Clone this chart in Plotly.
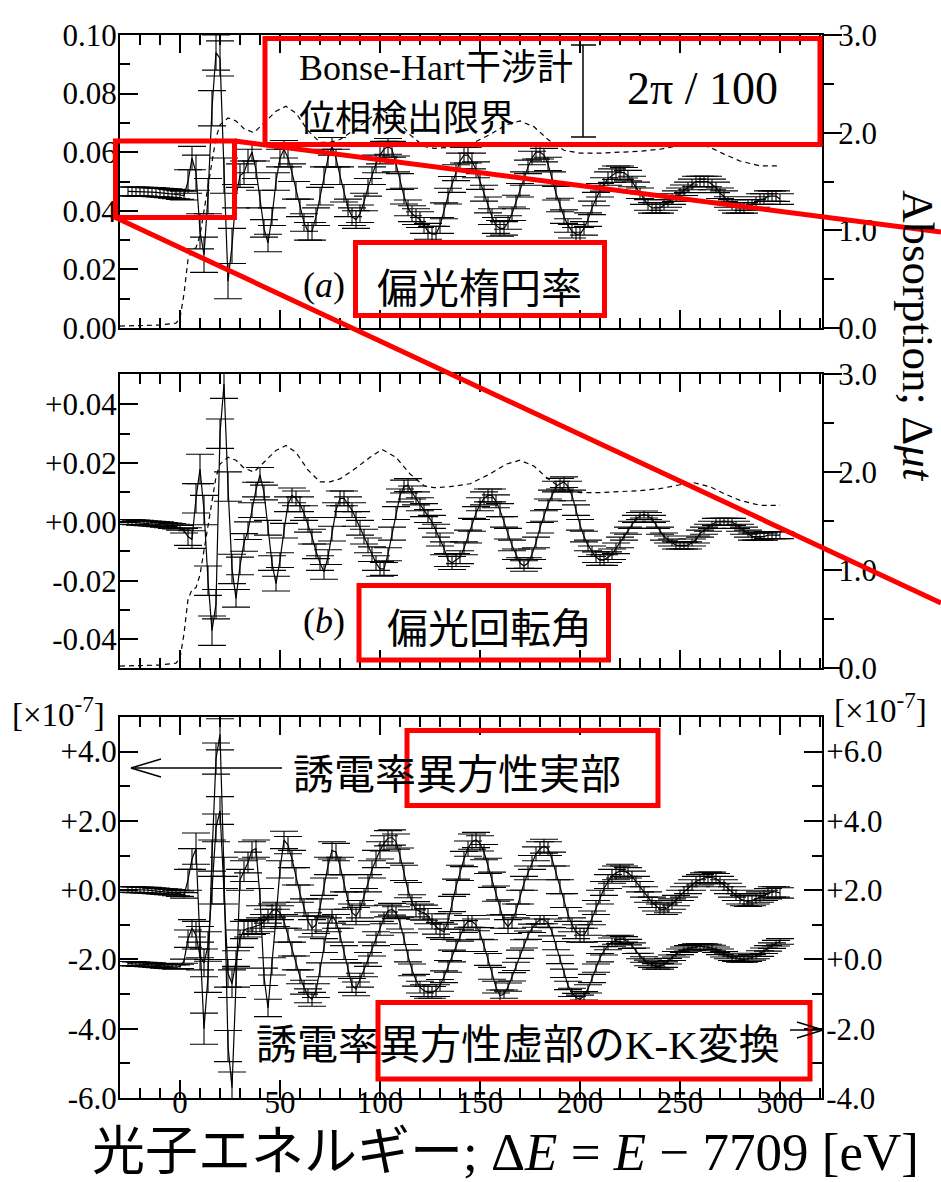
import plotly.graph_objects as go

W, H = 941, 1182

# ---------------- data ----------------
E_pre = [-26, -24, -22, -20, -18, -16, -14, -12, -10, -8, -6, -4, -2, 0, 2]
E_edge = [4, 6, 8, 10, 12, 14, 16, 18, 20, 22, 24, 26, 28, 30, 32]
E_post = [34, 36, 38, 40, 42, 44, 46, 48, 50, 52,
          54, 56, 58, 60, 62, 64, 66, 68, 70, 72,
          74, 76, 78, 80, 82, 84, 86, 88, 90, 92,
          94, 96, 98, 100, 102, 104, 106, 108, 110, 112,
          114, 116, 118, 120, 122, 124, 126, 128, 130, 132,
          134, 136, 138, 140, 142, 144, 146, 148, 150, 152,
          154, 156, 158, 160, 162, 164, 166, 168, 170, 172,
          174, 176, 178, 180, 182, 184, 186, 188, 190, 192,
          194, 196, 198, 200, 202, 204, 206, 208, 210, 212,
          214, 216, 218, 220, 222, 224, 226, 228, 230, 232,
          234, 236, 238, 240, 242, 244, 246, 248, 250, 252,
          254, 256, 258, 260, 262, 264, 266, 268, 270, 272,
          274, 276, 278, 280, 282, 284, 286, 288, 290, 292,
          294, 296, 298, 300]
E = E_pre + E_edge + E_post

# (a) ellipticity
ellipticity = [0.0466, 0.0466, 0.0466, 0.0465, 0.0465, 0.0464, 0.0464, 0.0463, 0.0462, 0.0461, 0.0460, 0.0458, 0.0456, 0.0454, 0.0452,
               0.050, 0.058, 0.053, 0.033, 0.025, 0.045, 0.075, 0.094, 0.092, 0.052, 0.016, 0.028, 0.045, 0.052, 0.053,
               0.057, 0.060, 0.054, 0.044, 0.034, 0.029, 0.038, 0.050, 0.058, 0.061,
               0.058, 0.053, 0.047, 0.041, 0.036, 0.033, 0.033, 0.038, 0.045, 0.052,
               0.058, 0.062, 0.058, 0.052, 0.046, 0.041, 0.038, 0.037, 0.039, 0.043,
               0.048, 0.052, 0.056, 0.059, 0.061, 0.062, 0.061, 0.056, 0.050, 0.045,
               0.041, 0.039, 0.038, 0.037, 0.035, 0.033, 0.032, 0.032, 0.035, 0.040,
               0.045, 0.049, 0.053, 0.057, 0.059, 0.059, 0.057, 0.054, 0.050, 0.046,
               0.042, 0.038, 0.035, 0.034, 0.034, 0.036, 0.039, 0.043, 0.047, 0.051,
               0.055, 0.058, 0.060, 0.060, 0.059, 0.056, 0.051, 0.046, 0.042, 0.038,
               0.035, 0.033, 0.032, 0.032, 0.034, 0.037, 0.041, 0.044, 0.047, 0.049,
               0.051, 0.052, 0.053, 0.053, 0.053, 0.052, 0.050, 0.048, 0.046, 0.044,
               0.042, 0.041, 0.041, 0.041, 0.042, 0.043, 0.044, 0.045, 0.046, 0.047,
               0.048, 0.049, 0.050, 0.050, 0.050, 0.050, 0.049, 0.048, 0.046, 0.045,
               0.043, 0.042, 0.041, 0.041, 0.041, 0.042, 0.042, 0.043, 0.044, 0.044,
               0.045, 0.045, 0.045, 0.044]

# (b) rotation
rotation = [0.0000, -0.0001, -0.0002, -0.0003, -0.0004, -0.0005, -0.0006, -0.0007, -0.0008, -0.0010, -0.0012, -0.0014, -0.0016, -0.0020, -0.0030,
            -0.005, -0.006, 0.008, 0.018, 0.004, -0.020, -0.037, -0.028, 0.030, 0.047, 0.012, -0.016, -0.026, -0.015, -0.007,
            -0.003, 0.004, 0.011, 0.016, 0.010, -0.002, -0.014, -0.021, -0.013, -0.003,
            0.006, 0.009, 0.008, 0.006, 0.003, -0.001, -0.005, -0.010, -0.014, -0.017,
            -0.012, -0.004, 0.004, 0.008, 0.008, 0.006, 0.004, 0.001, -0.002, -0.005,
            -0.008, -0.011, -0.014, -0.016, -0.016, -0.011, -0.004, 0.003, 0.009, 0.012,
            0.0125, 0.010, 0.008, 0.006, 0.004, 0.002, 0.000, -0.003, -0.006, -0.009,
            -0.013, -0.014, -0.013, -0.012, -0.009, -0.005, -0.001, 0.003, 0.006, 0.008,
            0.009, 0.009, 0.007, 0.004, 0.000, -0.004, -0.008, -0.011, -0.014, -0.015,
            -0.014, -0.011, -0.007, -0.002, 0.002, 0.006, 0.009, 0.012, 0.013, 0.0135,
            0.012, 0.009, 0.004, -0.001, -0.005, -0.008, -0.010, -0.012, -0.013, -0.013,
            -0.012, -0.011, -0.009, -0.007, -0.005, -0.003, -0.001, 0.001, 0.002, 0.0025,
            0.002, 0.001, -0.001, -0.003, -0.005, -0.006, -0.007, -0.008, -0.008, -0.008,
            -0.008, -0.007, -0.006, -0.004, -0.003, -0.002, -0.001, 0.000, 0.000, 0.000,
            0.000, 0.000, -0.001, -0.002, -0.003, -0.004, -0.005, -0.005, -0.005, -0.005,
            -0.0045, -0.0045, -0.0045, -0.0045]

# (c) dielectric anisotropy, real part (left axis, x1e-7)
eps_real = [0.02, 0.02, 0.01, 0.01, 0.0, 0.0, -0.01, -0.02, -0.03, -0.04, -0.05, -0.06, -0.08, -0.10, -0.15,
            0.3, 0.9, 1.2, -1.5, -4.0, -2.5, 1.0, 3.8, 4.5, 0.5, -4.5, -5.7, -2.5, 0.3, 0.55,
            0.8, 1.15, 1.2, -0.2, -2.5, -3.4, -2.2, -0.8, 0.6, 1.45,
            1.3, 0.9, 0.4, -0.1, -0.5, -0.9, -1.1, -1.0, -0.5, 0.1,
            0.7, 1.15, 1.1, 0.7, 0.2, -0.3, -0.65, -0.75, -0.55, -0.2,
            0.2, 0.6, 0.9, 1.15, 1.35, 1.5, 1.52, 1.4, 1.0, 0.5,
            0.0, -0.35, -0.55, -0.62, -0.65, -0.75, -0.9, -1.05, -1.15, -1.2,
            -0.9, -0.4, 0.1, 0.5, 0.9, 1.2, 1.4, 1.45, 1.35, 1.1,
            0.7, 0.3, -0.1, -0.5, -0.9, -1.05, -0.9, -0.6, -0.2, 0.2,
            0.5, 0.8, 1.05, 1.2, 1.27, 1.2, 0.9, 0.5, 0.1, -0.3,
            -0.7, -1.0, -1.2, -1.3, -1.3, -1.1, -0.8, -0.5, -0.2, 0.05,
            0.25, 0.4, 0.5, 0.55, 0.55, 0.5, 0.4, 0.25, 0.1, -0.05,
            -0.2, -0.35, -0.45, -0.55, -0.55, -0.5, -0.4, -0.3, -0.15, -0.05,
            0.05, 0.15, 0.25, 0.3, 0.35, 0.37, 0.37, 0.33, 0.25, 0.15,
            0.05, -0.05, -0.15, -0.25, -0.3, -0.32, -0.3, -0.25, -0.2, -0.15,
            -0.1, -0.05, -0.05, -0.08]

# (c) K-K transform of imaginary part (right axis, x1e-7)
eps_kk = [-0.12, -0.12, -0.13, -0.14, -0.14, -0.15, -0.16, -0.17, -0.18, -0.19, -0.20, -0.21, -0.22, -0.20, -0.05,
          0.6, 0.9, 0.7, 0.1, -0.1, 0.4, 2.0, 3.8, 4.3, 2.0, -0.4, -0.7, 0.0, 0.6, 0.85,
          0.9, 0.92, 0.95, 1.0, 1.1, 1.25, 1.4, 1.45, 1.35, 1.1,
          0.7, 0.3, -0.1, -0.5, -0.8, -1.05, -1.15, -0.9, -0.3, 0.4,
          1.0, 1.25, 1.1, 0.7, 0.2, -0.3, -0.75, -0.85, -0.6, -0.3,
          0.0, 0.3, 0.6, 0.9, 1.2, 1.4, 1.45, 1.35, 1.05, 0.6,
          0.1, -0.3, -0.6, -0.8, -0.9, -0.95, -0.95, -0.9, -0.75, -0.5,
          -0.2, 0.1, 0.4, 0.7, 0.95, 1.1, 1.1, 1.0, 0.75, 0.4,
          0.0, -0.4, -0.8, -1.05, -1.0, -0.8, -0.5, -0.2, 0.15, 0.45,
          0.7, 0.9, 1.05, 1.15, 1.15, 1.05, 0.8, 0.4, 0.0, -0.4,
          -0.75, -0.95, -1.1, -1.15, -1.05, -0.85, -0.55, -0.25, 0.05, 0.25,
          0.4, 0.5, 0.56, 0.58, 0.58, 0.5, 0.4, 0.25, 0.1, 0.0,
          -0.1, -0.15, -0.2, -0.2, -0.15, -0.05, 0.05, 0.15, 0.22, 0.28,
          0.32, 0.35, 0.37, 0.37, 0.37, 0.36, 0.33, 0.28, 0.22, 0.15,
          0.1, 0.05, 0.02, 0.0, 0.0, 0.02, 0.06, 0.1, 0.17, 0.25,
          0.32, 0.4, 0.47, 0.52]

# estimated error-bar half-lengths per energy range (upper bound of range, value)
err_bounds = [2, 6, 26, 34, 100, 160, 220, 300]
ellipticity_err_levels = [0.0015, 0.004, 0.006, 0.004, 0.003, 0.0027, 0.0023, 0.0018]
rotation_err_levels = [0.0008, 0.003, 0.005, 0.003, 0.0025, 0.0022, 0.0018, 0.0012]
eps_real_err_levels = [0.08, 0.3, 0.45, 0.3, 0.25, 0.22, 0.2, 0.15]
eps_kk_err_levels = [0.06, 0.25, 0.4, 0.25, 0.2, 0.17, 0.12, 0.08]

# absorption (dashed)
abs_E = [-30, -10, -2, 0, 2, 4, 6, 8, 10, 12, 14, 16, 18, 20, 24, 28, 32, 37, 42, 48, 53, 58, 64, 70,
         75, 80, 88, 95, 101, 108, 115, 122, 127, 135, 145, 155, 163, 170, 177, 184, 192, 200, 210,
         220, 230, 240, 250, 257, 265, 272, 280, 290, 300]
abs_mu = [0.02, 0.03, 0.05, 0.1, 0.35, 0.7, 0.8, 0.82, 0.95, 1.2, 1.45, 1.7, 1.95, 2.08, 2.15, 2.12,
          2.04, 2.0, 2.1, 2.22, 2.27, 2.2, 2.02, 1.9, 1.9, 1.93, 2.04, 2.15, 2.23, 2.15, 1.98, 1.86,
          1.84, 1.85, 1.88, 1.98, 2.08, 2.12, 2.06, 1.93, 1.82, 1.79, 1.79, 1.80, 1.81, 1.83, 1.87,
          1.89, 1.85, 1.78, 1.71, 1.66, 1.66]

# tick labels
a_left_vals = [0.00, 0.02, 0.04, 0.06, 0.08, 0.10]
a_left_text = ["0.00", "0.02", "0.04", "0.06", "0.08", "0.10"]
abs_vals = [0.0, 1.0, 2.0, 3.0]
abs_text = ["0.0", "1.0", "2.0", "3.0"]
b_left_vals = [-0.04, -0.02, 0.0, 0.02, 0.04]
b_left_text = ["-0.04", "-0.02", "+0.00", "+0.02", "+0.04"]
c_left_vals = [-6, -4, -2, 0, 2, 4]
c_left_text = ["-6.0", "-4.0", "-2.0", "+0.0", "+2.0", "+4.0"]
c_right_vals = [-4, -2, 0, 2, 4, 6]
c_right_text = ["-4.0", "-2.0", "+0.0", "+2.0", "+4.0", "+6.0"]
x_vals = [0, 50, 100, 150, 200, 250, 300]


# ---------------- helpers ----------------
def X(px):
    return px / W


def Y(py):
    return 1 - py / H


def errs(levels):
    out = []
    for e in E:
        for b, v in zip(err_bounds, levels):
            if e <= b:
                out.append(v)
                break
    return out


SERIF = "Liberation Serif"
MIXED = "Liberation Serif, Noto Sans CJK JP"
SANS = "Noto Sans CJK JP"
RED = "#ff0000"

fig = go.Figure()


def data_trace(y, levels, xa, ya):
    return go.Scatter(x=E, y=y, mode="lines", xaxis=xa, yaxis=ya,
                      line=dict(color="black", width=1.2),
                      error_y=dict(type="data", array=errs(levels), visible=True,
                                   color="black", thickness=1.1, width=14),
                      showlegend=False, hoverinfo="skip")


def abs_trace(xa, ya):
    return go.Scatter(x=abs_E, y=abs_mu, mode="lines", xaxis=xa, yaxis=ya,
                      line=dict(color="black", width=1.2, dash="5px,4px"),
                      showlegend=False, hoverinfo="skip")


fig.add_trace(abs_trace("x", "y4"))
fig.add_trace(data_trace(ellipticity, ellipticity_err_levels, "x", "y"))
fig.add_trace(abs_trace("x2", "y5"))
fig.add_trace(data_trace(rotation, rotation_err_levels, "x2", "y2"))
fig.add_trace(data_trace(eps_real, eps_real_err_levels, "x3", "y3"))
fig.add_trace(data_trace(eps_kk, eps_kk_err_levels, "x3", "y6"))

XR = [-30, 321]
tickfont = dict(family=SERIF, size=31, color="black")


def xax(anchor, labels):
    return dict(domain=[X(120), X(822)], range=XR, anchor=anchor,
                tickmode="array", tickvals=x_vals, showticklabels=labels,
                ticks="inside", ticklen=18, tickwidth=1.5, tickcolor="black",
                minor=dict(dtick=10, tick0=0, ticks="inside", ticklen=10,
                           tickwidth=1.5, tickcolor="black"),
                showline=True, linewidth=2, linecolor="black", mirror="ticks",
                showgrid=False, zeroline=False, tickfont=tickfont,
                ticklabelstandoff=-24)


def yax(dom, rng, vals, text, mdt, anchor, side="left", ticks="inside", overlay=None, standoff=0):
    d = dict(domain=dom, range=rng, anchor=anchor, side=side,
             tickmode="array", tickvals=vals, ticktext=text,
             ticks=ticks, ticklen=18, tickwidth=1.5, tickcolor="black",
             minor=dict(dtick=mdt, tick0=0, ticks=ticks, ticklen=10,
                        tickwidth=1.5, tickcolor="black"),
             showline=True, linewidth=2, linecolor="black",
             showgrid=False, zeroline=False, tickfont=tickfont,
             ticklabelstandoff=standoff)
    if overlay:
        d["overlaying"] = overlay
        d.pop("domain")
    return d


domA = [Y(328), Y(35)]
domB = [Y(668), Y(374)]
domC = [Y(1098), Y(717)]

fig.update_layout(
    width=W, height=H,
    margin=dict(l=0, r=0, t=0, b=0),
    paper_bgcolor="white", plot_bgcolor="white",
    template="none",
    showlegend=False,
    xaxis=xax("y", False),
    xaxis2=xax("y2", False),
    xaxis3=xax("y3", True),
    yaxis=yax(domA, [0, 0.10], a_left_vals, a_left_text, 0.01, "x", standoff=-5),
    yaxis2=yax(domB, [-0.0497, 0.0503], b_left_vals, b_left_text, 0.01, "x2", standoff=-5),
    yaxis3=yax(domC, [-6, 5], c_left_vals, c_left_text, 1, "x3", standoff=-5),
    yaxis4=yax(domA, [0, 3], abs_vals, abs_text, 0.5, "x", side="right", ticks="outside", overlay="y", standoff=-10),
    yaxis5=yax(domB, [0, 3], abs_vals, abs_text, 0.5, "x2", side="right", ticks="outside", overlay="y2", standoff=-10),
    yaxis6=yax(domC, [-4, 7], c_right_vals, c_right_text, 1, "x3", side="right", ticks="inside", overlay="y3", standoff=-4),
)

# ---------------- shapes ----------------
shapes = []


def rect(x0, y0, x1, y1):
    shapes.append(dict(type="rect", xref="paper", yref="paper",
                       x0=X(x0), x1=X(x1), y0=Y(y1), y1=Y(y0),
                       line=dict(color=RED, width=5), fillcolor="rgba(0,0,0,0)", layer="above"))


def seg(x0, y0, x1, y1, color="black", width=1.5):
    shapes.append(dict(type="line", xref="paper", yref="paper",
                       x0=X(x0), x1=X(x1), y0=Y(y0), y1=Y(y1),
                       line=dict(color=color, width=width), layer="above"))


rect(265, 38.5, 820, 144.5)
rect(115.5, 141, 234.5, 217.5)
rect(355.5, 242.5, 604.5, 315.5)
rect(359, 585.5, 608.5, 660)
rect(407, 730.5, 658, 805.5)
rect(378, 1002.5, 810, 1079)

seg(234.5, 141, 941, 232, RED, 5)
seg(115.5, 217.5, 941, 603, RED, 5)

# 2pi/100 scale bar
seg(583, 45, 583, 137)
seg(571, 45, 596, 45)
seg(571, 137, 596, 137)

# arrows
seg(282, 768, 131, 768)
seg(131, 768, 161, 759)
seg(131, 768, 161, 777)
seg(790, 1030, 823, 1030)
seg(823, 1030, 797, 1022)
seg(823, 1030, 797, 1038)

fig.update_layout(shapes=shapes)

# ---------------- annotations ----------------
ann = []


def txt(s, x, y, size, family=MIXED, xanchor="center", angle=0):
    ann.append(dict(text=s, x=X(x), y=Y(y), xref="paper", yref="paper",
                    xanchor=xanchor, yanchor="middle", showarrow=False,
                    textangle=angle, font=dict(family=family, size=size, color="black")))


txt("Bonse-Hart干涉計", 297, 68, 36, xanchor="left")
txt("位相検出限界", 297, 115, 36, family=SANS, xanchor="left")
txt("2π / 100", 702, 88, 46, family=SERIF)
txt("(<i>a</i>)", 324, 285, 36, family=SERIF)
txt("偏光楕円率", 479, 285, 41, family=SANS)
txt("(<i>b</i>)", 324, 621, 36, family=SERIF)
txt("偏光回転角", 489, 625, 41, family=SANS)
txt("誘電率異方性実部", 291, 775, 41, xanchor="left")
txt("誘電率異方性虚部のK-K変換", 254, 1045, 41, xanchor="left")
txt("[×10<sup>-7</sup>]", 10, 712, 33, family=SERIF, xanchor="left")
txt("[×10<sup>-7</sup>]", 832, 708, 33, family=SERIF, xanchor="left")
txt("Absorption; Δ<i>μt</i>", 918, 336, 45, family=SERIF, angle=90)
txt("光子エネルギー; Δ<i>E</i> = <i>E</i> − 7709 [eV]", 506, 1152, 53)

fig.update_layout(annotations=ann)

fig.write_html("out.html", config={"displayModeBar": False},
               post_script="document.body.style.margin='0px';")
